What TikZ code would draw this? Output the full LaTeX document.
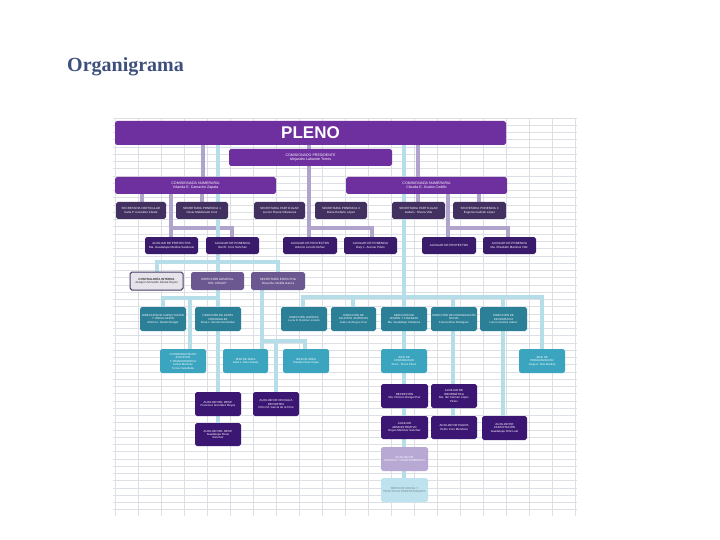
\documentclass[tikz,border=0pt]{standalone}
\usepackage{fontspec}
\setmainfont{Liberation Serif}
\setsansfont{Liberation Sans}
\usetikzlibrary{backgrounds}
\definecolor{titlec}{HTML}{3E4F7E}
\definecolor{plenoc}{HTML}{6E2F9F}
\definecolor{secc}{HTML}{413060}
\definecolor{auxc}{HTML}{3A1B6B}
\definecolor{dirc}{HTML}{6B5891}
\definecolor{tealc}{HTML}{2B7F97}
\definecolor{teallc}{HTML}{3BA5BF}
\definecolor{deepc}{HTML}{3C1673}
\definecolor{lilac}{HTML}{B7A9D4}
\definecolor{skyc}{HTML}{BEE3EE}
\definecolor{lavline}{HTML}{B0A4CC}
\definecolor{blueline}{HTML}{B5DEE9}
\definecolor{gridc}{HTML}{DCDFE3}
\definecolor{contrafill}{HTML}{E6E3EA}
\definecolor{contradraw}{HTML}{4A3C6A}
\tikzset{
  box/.style={rounded corners=1.8pt, inner sep=0pt, outer sep=0pt, align=center, text=white,
    font=\sffamily\fontsize{3}{3.6}\selectfont},
  plenobox/.style={box, fill=plenoc},
  combox/.style={box, fill=plenoc, font=\sffamily\fontsize{3.6}{4.3}\selectfont},
  secbox/.style={box, fill=secc},
  auxbox/.style={box, fill=auxc},
  dirbox/.style={box, fill=dirc},
  contrabox/.style={box, fill=contrafill, draw=contradraw, line width=1pt, text=black!80},
  tealbox/.style={box, fill=tealc, font=\sffamily\fontsize{2.8}{3.4}\selectfont},
  teallbox/.style={box, fill=teallc, font=\sffamily\fontsize{2.8}{3.4}\selectfont},
  deepbox/.style={box, fill=deepc, font=\sffamily\fontsize{2.9}{3.4}\selectfont},
  lilacbox/.style={box, fill=lilac, font=\sffamily\fontsize{2.9}{3.4}\selectfont, text=white!92!lilac},
  skybox/.style={box, fill=skyc, font=\sffamily\fontsize{2.9}{3.4}\selectfont, text=black!40!skyc},
  lv/.style={draw=lavline, line width=3.6pt},
  lb/.style={draw=blueline, line width=4pt},
  gridline/.style={draw=gridc, line width=0.5pt}
}
\newcommand\bx[7]{\node[#6, minimum width={(#4)-(#2)}, minimum height={(#5)-(#3)}] (#1) at ({((#2)+(#4))/2},{((#3)+(#5))/2}) {#7};}
\begin{document}
\begin{tikzpicture}[x=1pt,y=-1pt]
\useasboundingbox (0,0) rectangle (720,540);
\begin{scope}[on background layer]
  \fill[white] (0,0) rectangle (720,540);
  \foreach \i in {0,...,54} \draw[gridline] (113,{118+7.25*\i}) -- (577,{118+7.25*\i});
  \foreach \x in {115,138,...,576} \draw[gridline] (\x,118) -- (\x,516);
\end{scope}

\node[font=\bfseries\fontsize{20}{24}\selectfont, text=titlec, anchor=base west, inner sep=0pt] (title) at (67,72) {Organigrama};

% top
\bx{pleno}{115}{121}{506}{145}{plenobox, font=\sffamily\bfseries\fontsize{17}{19}\selectfont}{PLENO}
\bx{pres}{229}{149}{392}{166}{combox}{COMISIONADO PRESIDENTE\\Alejandro Lafuente Torres}
\bx{cnL}{115}{177}{276}{194}{combox}{COMISIONADA NUMERARIA\\Yolanda E. Camacho Zapata}
\bx{cnR}{346}{177}{507}{194}{combox}{COMISIONADA NUMERARIA\\Claudia E. Ávalos Cedillo}

% secretarias
\bx{s1}{116}{202}{166}{219}{secbox}{SECRETARIA PARTICULAR\\Karla P. González Zárate}
\bx{s2}{176}{202}{228}{219}{secbox}{SECRETARIA PONENCIA 1\\César Maldonado Cruz}
\bx{s3}{254}{202}{305}{219}{secbox}{SECRETARIA PARTICULAR\\Leonor Rivera Villanueva}
\bx{s4}{315}{202}{367}{219}{secbox}{SECRETARIA PONENCIA 2\\Diana Rodarte López}
\bx{s5}{392}{202}{445}{219}{secbox}{SECRETARIA PARTICULAR\\Isabel L. Rivera Villa}
\bx{s6}{453}{202}{506}{219}{secbox}{SECRETARIA PONENCIA 3\\Eugenia Galindo López}

% auxiliares
\bx{a1}{145}{237}{198}{254}{auxbox}{AUXILIAR DE PROYECTOS\\Ma. Guadalupe Medina Sandoval}
\bx{a2}{206}{237}{259}{254}{auxbox}{AUXILIAR DE PONENCIA\\Itzel E. Cruz Sánchez}
\bx{a3}{283}{237}{337}{254}{auxbox}{AUXILIAR DE PROYECTOS\\Antonio Loredo Nuñez}
\bx{a4}{344}{237}{397}{254}{auxbox}{AUXILIAR DE PONENCIA\\Dary L. Arenas Prieto}
\bx{a5}{422}{237}{476}{254}{auxbox}{AUXILIAR DE PROYECTOS}
\bx{a6}{483}{237}{536}{254}{auxbox}{AUXILIAR DE PONENCIA\\Ma. Elizabeth Martínez Hdz.}

% row 5
\bx{contra}{130}{272}{183}{290}{contrabox}{\bfseries CONTRALORÍA INTERNA\\Joaquín Armando Zárate Reyes}
\bx{dg}{191}{272}{244}{290}{dirbox}{DIRECCIÓN GENERAL\\DEL CEGAIP}
\bx{se}{251}{272}{305}{290}{dirbox}{SECRETARÍA EJECUTIVA\\Rosa Ma. Motilla García}

% row 6
\bx{d1}{140}{307}{186}{331}{tealbox}{DIRECCIÓN DE CAPACITACIÓN\\Y VINCULACIÓN\\Mónica I. Oviedo Rangel}
\bx{d2}{195}{307}{241}{331}{tealbox}{DIRECCIÓN DE DATOS\\PERSONALES\\Rosa L. Montes Hernández}
\bx{d3}{281}{307}{327}{331}{tealbox}{DIRECCIÓN JURÍDICA\\Lucía E. Ramírez Loredo}
\bx{d4}{331}{307}{376}{331}{tealbox}{DIRECCIÓN DE\\ASUNTOS JURÍDICOS\\José Luis Reyes Cruz}
\bx{d5}{381}{307}{427}{331}{tealbox}{DIRECCIÓN DE\\ADMÓN. Y FINANZAS\\Ma. Guadalupe Cárdenas}
\bx{d6}{431}{307}{477}{331}{tealbox}{DIRECCIÓN DE COMUNICACIÓN\\SOCIAL\\Francia Ríos Rodríguez}
\bx{d7}{480}{307}{527}{331}{tealbox}{DIRECCIÓN DE\\INFORMÁTICA\\Luis Cervantes Juárez}

% row 7
\bx{u1}{160}{349}{206}{373}{teallbox}{COORDINACIÓN DE\\ARCHIVOS\\Y TRANSPARENCIA\\Leticia Martínez\\Torres Castañeda}
\bx{u2}{223}{349}{268}{373}{teallbox}{JEFE DE ÁREA\\Alma L. Díaz Zavala}
\bx{u3}{283}{349}{329}{373}{teallbox}{JEFE DE ÁREA\\Claudia Pérez Rojas}
\bx{u4}{381}{349}{427}{373}{teallbox}{JEFE DE\\CONTABILIDAD\\Ana L. Torres Pérez}
\bx{u5}{519}{349}{565}{373}{teallbox}{JEFE DE\\PROGRAMACIÓN\\Jorge A. Ruiz Medina}

% row 8
\bx{p1}{195}{392}{241}{416}{deepbox}{AUXILIAR DEL DESP.\\Francisco González Reyes}
\bx{p2}{253}{392}{299}{416}{deepbox}{AUXILIAR DE OFICIALÍA\\DE PARTES\\Víctor M. García de la Torre}
\bx{p3}{381}{384}{428}{408}{deepbox}{RECEPCIÓN\\Ma. Dolores Rangel Paz}
\bx{p4}{431}{384}{477}{408}{deepbox}{AUXILIAR DE\\INFORMÁTICA\\Ma. del Carmen López\\Pérez}

% row 9
\bx{q1}{195}{423}{241}{446}{deepbox}{AUXILIAR DEL DESP.\\Guadalupe Rivas\\Sánchez}
\bx{q2}{381}{416}{428}{439}{deepbox}{AUXILIAR\\ADMINISTRATIVO\\Reyes Martínez Sánchez}
\bx{q3}{431}{416}{477}{439}{deepbox}{AUXILIAR DE PAGOS\\Pedro Cruz Mendoza}
\bx{q4}{482}{416}{527}{440}{deepbox}{AUXILIAR DE\\CAPACITACIÓN\\Guadalupe Ortiz Leal}

% rows 10-11
\bx{r1}{381}{447}{428}{471}{lilacbox}{AUXILIAR DE\\LIMPIEZA Y MANTENIMIENTO}
\bx{t1}{381}{478}{428}{502}{skybox}{SERVICIO SOCIAL Y\\PRÁCTICAS PROFESIONALES}

% guides
\foreach \g in {142,157,163,171,190,202,203,218,232,262,276,278,303,305,309,353,372,404,418,448,453,479,503,508,542}
  \coordinate (g\g) at (\g,0);
\coordinate (bA) at (0,228);
\coordinate (bB) at (0,262);
\coordinate (bC) at (0,298);
\coordinate (bD) at (0,341);
\coordinate (bE) at (0,297);

\begin{scope}[on background layer]
  % lavender
  \draw[lv] (pleno.south -| g203) -- (cnL.north -| g203);
  \draw[lv] (cnL.south -| g142) -- (s1.north -| g142);
  \draw[lv] (cnL.south -| g202) -- (s2.north -| g202);
  \draw[lv] (cnL.south -| g171) -- (a1.north -| g171);
  \draw[lv] (g171 |- bA) -- (g232 |- bA) -- (a2.north -| g232);
  \draw[lv] (pleno.south -| g309) -- (pres.north -| g309);
  \draw[lv] (pres.south -| g309) -- (a3.north -| g309);
  \draw[lv] (g309 |- bA) -- (g372 |- bA) -- (a4.north -| g372);
  \draw[lv] (pleno.south -| g418) -- (cnR.north -| g418);
  \draw[lv] (cnR.south -| g418) -- (s5.north -| g418);
  \draw[lv] (cnR.south -| g479) -- (s6.north -| g479);
  \draw[lv] (cnR.south -| g448) -- (a5.north -| g448);
  \draw[lv] (g448 |- bA) -- (g508 |- bA) -- (a6.north -| g508);
  % light blue
  \draw[lb] (pleno.south -| g218) -- (q1.north -| g218);
  \draw[lb] (contra.north -| g157) -- (g157 |- bB) -- (g278 |- bB) -- (se.north -| g278);
  \draw[lb] (d1.north -| g163) -- (g163 |- bC) -- (g218 |- bC);
  \draw[lb] (g190 |- bC) -- (u1.north -| g190);
  \draw[lb] (se.south -| g262) -- (u2.north -| g262);
  \draw[lb] (g262 |- bD) -- (g305 |- bD) -- (u3.north -| g305);
  \draw[lb] (g276 |- bD) -- (p2.north -| g276);
  \draw[lb] (pleno.south -| g404) -- (t1.north -| g404);
  \draw[lb] (d3.north -| g303) -- (g303 |- bE) -- (g542 |- bE) -- (u5.north -| g542);
  \draw[lb] (g353 |- bE) -- (d4.north -| g353);
  \draw[lb] (g453 |- bE) -- (q3.north -| g453);
  \draw[lb] (g503 |- bE) -- (q4.north -| g503);
\end{scope}
\end{tikzpicture}
\end{document}
